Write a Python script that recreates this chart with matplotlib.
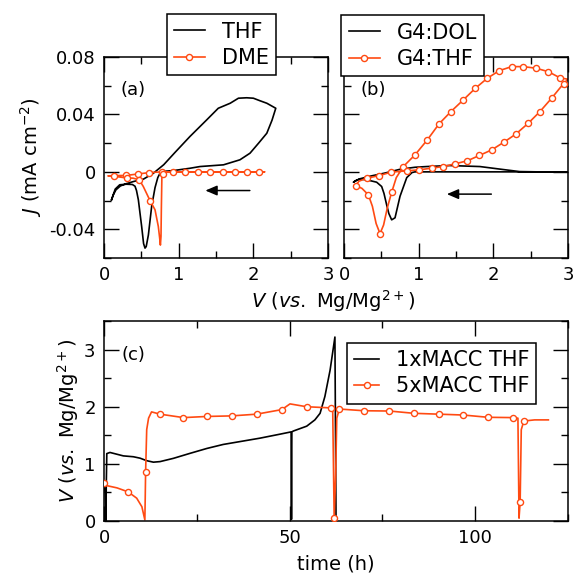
import matplotlib
matplotlib.use('Agg')
import matplotlib.pyplot as plt
from matplotlib.lines import Line2D
from matplotlib.ticker import MultipleLocator

plt.rcParams['font.family'] = ['DejaVu Sans']
plt.rcParams['mathtext.fontset'] = 'dejavusans'
plt.rcParams['axes.unicode_minus'] = False

ORANGE = '#ff4a12'

# ---- panel (a): THF / DME
thf_v = [0.10, 0.125, 0.16, 0.22, 0.30, 0.39, 0.53, 0.66, 0.80, 0.95, 1.15, 1.375, 1.53, 1.69, 1.80, 1.91, 2.00, 2.09, 2.18, 2.30,
         2.25, 2.18, 2.07, 1.955, 1.82, 1.60, 1.285, 1.15, 0.93, 0.79, 0.75, 0.72, 0.683, 0.638, 0.594, 0.565, 0.549, 0.53,
         0.504, 0.48, 0.46, 0.435, 0.415, 0.38, 0.30, 0.21, 0.15, 0.10]
thf_j = [-0.0195, -0.016, -0.0125, -0.0098, -0.0082, -0.0068, -0.0050, -0.0010, 0.0050, 0.0135, 0.0246, 0.0362, 0.0443, 0.0478,
         0.0513, 0.0516, 0.0513, 0.0495, 0.0478, 0.0443,
         0.036, 0.0269, 0.0200, 0.0130, 0.0084, 0.0049, 0.0037, 0.0025, 0.0009, 0.0003, -0.0009, -0.004, -0.011, -0.024, -0.044,
         -0.052, -0.0531, -0.050, -0.038, -0.028, -0.0195, -0.013, -0.0100, -0.0088, -0.0086, -0.0090, -0.0120, -0.0195]

dme_v = [0.06, 0.138, 0.295, 0.45, 0.606, 0.77, 1.2, 2.15, 1.2, 0.80, 0.775, 0.768, 0.763, 0.755, 0.745, 0.727, 0.683, 0.616,
         0.526, 0.473, 0.39, 0.295, 0.18, 0.06]
dme_j = [-0.0028, -0.0026, -0.0025, -0.0015, -0.0005, 0.0, 0.0, 0.0, 0.0, -0.0003, -0.003, -0.025, -0.045, -0.051, -0.046,
         -0.038, -0.0264, -0.020, -0.0102, -0.0056, -0.0044, -0.0042, -0.0034, -0.0028]
dme_mark_v = [0.138, 0.295, 0.45, 0.606, 0.77, 0.93, 1.09, 1.26, 1.42, 1.59, 1.75, 1.91, 2.07, 0.785, 0.616, 0.473, 0.31]
dme_mark_j = [-0.0026, -0.0025, -0.0015, -0.0005, 0.0, 0.0, 0.0, 0.0, 0.0, 0.0, 0.0, 0.0, 0.0, -0.0015, -0.020, -0.0056, -0.0042]

# ---- panel (b): G4:DOL / G4:THF
dol_v = [3.0, 2.0, 1.1, 0.95, 0.91, 0.84, 0.75, 0.683, 0.638, 0.60, 0.571, 0.535, 0.504, 0.437, 0.30, 0.214, 0.16, 0.125,
         0.2, 0.35, 0.55, 0.75, 0.95, 1.107, 1.42, 1.82, 2.09, 2.35, 2.6, 3.0]
dol_j = [0.0, 0.0, 0.0, 0.0, -0.0005, -0.004, -0.017, -0.032, -0.0334, -0.029, -0.023, -0.015, -0.0102, -0.0072, -0.0055,
         -0.0051, -0.006, -0.0072,
         -0.0050, -0.0030, -0.0008, 0.0018, 0.0032, 0.0037, 0.0044, 0.0037, 0.0019, 0.0002, 0.0, 0.0]

g4thf_v = [0.156, 0.24, 0.326, 0.38, 0.43, 0.482, 0.53, 0.58, 0.638, 0.70, 0.794, 0.950, 1.116, 1.272, 1.432, 1.597, 1.758,
           1.919, 2.079, 2.245, 2.401, 2.570, 2.735, 2.892, 3.0,
           2.94, 2.78, 2.624, 2.468, 2.303, 2.142, 1.977, 1.812, 1.651, 1.486, 1.330, 1.174, 1.004, 0.839, 0.629, 0.473,
           0.303, 0.20, 0.156]
g4thf_j = [-0.0095, -0.0115, -0.016, -0.024, -0.036, -0.043, -0.037, -0.025, -0.0142, -0.004, 0.0037, 0.0118, 0.0223, 0.0334,
           0.0420, 0.0501, 0.0582, 0.0652, 0.0705, 0.0733, 0.0733, 0.0722, 0.0698, 0.0655, 0.0645,
           0.0615, 0.0513, 0.0420, 0.0339, 0.0264, 0.0207, 0.0153, 0.0114, 0.0077, 0.0056, 0.0037, 0.0026, 0.0014, 0.0007,
           -0.0002, -0.0026, -0.0044, -0.0065, -0.0095]
g4thf_mark_v = [0.156, 0.326, 0.482, 0.638, 0.794, 0.950, 1.116, 1.272, 1.432, 1.597, 1.758, 1.919, 2.079, 2.245, 2.401,
                2.570, 2.735, 2.892, 2.94, 2.78, 2.624, 2.468, 2.303, 2.142, 1.977, 1.812, 1.651, 1.486, 1.330, 1.174,
                1.004, 0.839, 0.629, 0.473, 0.303]
g4thf_mark_j = [-0.0095, -0.016, -0.043, -0.0142, 0.0037, 0.0118, 0.0223, 0.0334, 0.0420, 0.0501, 0.0582, 0.0652, 0.0705,
                0.0733, 0.0733, 0.0722, 0.0698, 0.0655, 0.0615, 0.0513, 0.0420, 0.0339, 0.0264, 0.0207, 0.0153, 0.0114,
                0.0077, 0.0056, 0.0037, 0.0026, 0.0014, 0.0007, -0.0002, -0.0026, -0.0044]

# ---- panel (c): galvanostatic
t1 = [0.0, 0.3, 0.5, 0.6, 0.75, 1.6, 5.2, 7.9, 9.7, 11.5, 13.3, 15.1, 18.7, 23.2, 27.7, 32.1, 36.6, 42.0, 47.4, 50.4, 50.5,
      50.6, 51.0, 54.6, 56.8, 58.2, 59.5, 60.9, 62.2, 62.5]
v1 = [0.65, 0.5, 0.0, 0.6, 1.18, 1.2, 1.14, 1.125, 1.10, 1.056, 1.03, 1.04, 1.097, 1.185, 1.27, 1.34, 1.39, 1.45, 1.52, 1.56,
      0.03, 1.56, 1.575, 1.66, 1.77, 1.885, 2.18, 2.64, 3.22, 0.0]

t5 = [0.0, 0.7, 3.5, 6.5, 8.8, 10.2, 11.0, 11.1, 11.2, 11.5, 12.0, 12.8, 15.1, 21.4, 27.7, 34.4, 41.1, 47.9, 50.1, 54.6,
      61.1, 61.6, 62.0, 62.4, 62.7, 63.4, 70.0, 76.9, 83.5, 90.2, 96.8, 103.5, 110.3, 111.5, 111.8, 112.1, 112.4, 113.1,
      116.0, 119.7]
v5 = [0.67, 0.62, 0.58, 0.51, 0.40, 0.25, 0.02, 0.4, 0.85, 1.6, 1.8, 1.91, 1.87, 1.81, 1.83, 1.84, 1.87, 1.95, 2.05, 2.0,
      1.98, 1.97, 0.05, 0.8, 1.8, 1.96, 1.93, 1.925, 1.885, 1.87, 1.855, 1.815, 1.81, 1.80, 0.05, 0.34, 1.6, 1.75, 1.77, 1.77]
t5_mark = [0.0, 6.5, 11.2, 15.1, 21.4, 27.7, 34.4, 41.1, 47.9, 54.6, 61.1, 62.0, 63.4, 70.0, 76.9, 83.5, 90.2, 96.8,
           103.5, 110.3, 112.1, 113.1]
v5_mark = [0.67, 0.51, 0.85, 1.87, 1.81, 1.83, 1.84, 1.87, 1.95, 2.0, 1.98, 0.05, 1.96, 1.93, 1.925, 1.885, 1.87, 1.855,
           1.815, 1.81, 0.34, 1.75]

LW = 1.2
MS = 4.4
mark_kw = dict(linestyle='none', marker='o', ms=MS, mfc='white', mec=ORANGE, mew=1.0, zorder=4)


def style_axes(ax):
    ax.tick_params(which='both', direction='in', top=True, right=True, labelsize=13, width=1)
    ax.tick_params(which='major', length=11, pad=6)
    ax.tick_params(which='minor', length=5)
    for s in ax.spines.values():
        s.set_linewidth(1.1)


def leg(ax, labels, anchor, hl=1.5):
    handles = [Line2D([], [], color='black', lw=LW),
               Line2D([], [], color=ORANGE, lw=LW, marker='o', ms=MS, mfc='white', mec=ORANGE, mew=1.0)]
    lg = ax.legend(handles, labels, loc='upper right', bbox_to_anchor=anchor, borderaxespad=0,
                   fontsize=15, fancybox=False, framealpha=1, edgecolor='black', handlelength=hl,
                   handletextpad=0.8, borderpad=0.35, labelspacing=0.3)
    lg.get_frame().set_linewidth(1.1)


fig = plt.figure(figsize=(5.75, 5.74), dpi=100)
ax_a = fig.add_axes([0.1809, 0.5505, 0.3896, 0.3502])
ax_b = fig.add_axes([0.5983, 0.5505, 0.3896, 0.3502])
ax_c = fig.add_axes([0.1809, 0.0923, 0.8070, 0.3484])

# (a)
ax_a.plot(thf_v, thf_j, color='black', lw=LW)
ax_a.plot(dme_v, dme_j, color=ORANGE, lw=LW)
ax_a.plot(dme_mark_v, dme_mark_j, **mark_kw)
ax_a.annotate('', xy=(1.32, -0.013), xytext=(1.99, -0.013),
              arrowprops=dict(arrowstyle='-|>,head_length=0.7,head_width=0.3', color='black', lw=1.1))
ax_a.text(0.22, 0.057, '(a)', fontsize=13, va='center', ha='left')
leg(ax_a, ['THF', 'DME'], (0.768, 1.212))

# (b)
ax_b.plot(dol_v, dol_j, color='black', lw=LW)
ax_b.plot(g4thf_v, g4thf_j, color=ORANGE, lw=LW)
ax_b.plot(g4thf_mark_v, g4thf_mark_j, **mark_kw)
ax_b.annotate('', xy=(1.34, -0.0155), xytext=(2.01, -0.0155),
              arrowprops=dict(arrowstyle='-|>,head_length=0.7,head_width=0.3', color='black', lw=1.1))
ax_b.text(0.22, 0.057, '(b)', fontsize=13, va='center', ha='left')
leg(ax_b, ['G4:DOL', 'G4:THF'], (0.626, 1.207))

for ax in (ax_a, ax_b):
    ax.set_xlim(0, 3)
    ax.set_ylim(-0.06, 0.08)
    ax.set_xticks([0, 1, 2, 3])
    ax.set_xticklabels(['0', '1', '2', '3'])
    ax.xaxis.set_minor_locator(MultipleLocator(0.5))
    ax.set_yticks([-0.04, 0, 0.04, 0.08])
    ax.yaxis.set_minor_locator(MultipleLocator(0.02))
    style_axes(ax)
ax_a.set_yticklabels(['-0.04', '0', '0.04', '0.08'])
ax_b.set_yticklabels([])
ax_a.set_ylabel(r'$J$ (mA cm$^{-2}$)', fontsize=14, labelpad=4)
fig.text(0.579, 0.476, r'$V$ ($vs.$ Mg/Mg$^{2+}$)', fontsize=14, ha='center', va='center')

# (c)
ax_c.plot(t1, v1, color='black', lw=LW)
ax_c.plot(t5, v5, color=ORANGE, lw=LW)
ax_c.plot(t5_mark, v5_mark, **mark_kw)
ax_c.text(4.6, 2.9, '(c)', fontsize=13, va='center', ha='left')
leg(ax_c, ['1xMACC THF', '5xMACC THF'], (0.932, 0.8915), hl=1.2)
ax_c.set_xlim(0, 125)
ax_c.set_ylim(0, 3.5)
ax_c.set_xticks([0, 50, 100])
ax_c.xaxis.set_minor_locator(MultipleLocator(25))
ax_c.set_yticks([0, 1, 2, 3])
ax_c.yaxis.set_minor_locator(MultipleLocator(0.5))
style_axes(ax_c)
ax_c.set_xlabel('time (h)', fontsize=14, labelpad=5)
ax_c.set_ylabel(r'$V$ ($vs.$ Mg/Mg$^{2+}$)', fontsize=14, labelpad=2)

fig.savefig('out.png', dpi=100)
